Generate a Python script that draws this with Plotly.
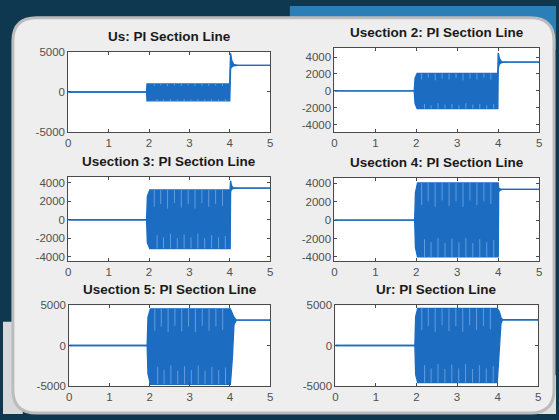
import plotly.graph_objects as go

# ---------------- data ----------------
titles = ["Us: PI Section Line", "Usection 2: PI Section Line",
          "Usection 3: PI Section Line", "Usection 4: PI Section Line",
          "Usection 5: PI Section Line", "Ur: PI Section Line"]

# envelope key points: time (s), upper envelope, lower envelope (V)
t_us = [0, 1.94, 1.95, 4.00, 4.02, 4.05, 4.10, 4.20, 5]
up_us = [0, 0, 1000, 1000, 4800, 3900, 3400, 3300, 3300]
lo_us = [0, 0, -1100, -1100, 2900, 3100, 3250, 3300, 3300]

t_s2 = [0, 1.95, 1.97, 2.02, 3.99, 4.00, 4.03, 4.08, 4.20, 5]
up_s2 = [0, 0, 1500, 2050, 2050, 4500, 3800, 3450, 3400, 3400]
lo_s2 = [0, 0, -1500, -2100, -2100, 2700, 3200, 3350, 3400, 3400]

t_s3 = [0, 1.94, 1.96, 2.02, 4.01, 4.02, 4.04, 4.08, 4.20, 5]
up_s3 = [0, 0, 2500, 3200, 3200, 4200, 3700, 3450, 3400, 3400]
lo_s3 = [0, 0, -2500, -3100, -3100, 3000, 3250, 3350, 3400, 3400]

t_s4 = [0, 1.96, 1.98, 2.03, 4.00, 4.01, 4.04, 4.10, 5]
up_s4 = [0, 0, 3000, 4050, 4050, 3500, 3400, 3350, 3350]
lo_s4 = [0, 0, -3000, -4000, -4000, 3100, 3250, 3350, 3350]

t_s5 = [0, 1.94, 1.96, 2.02, 4.01, 4.06, 4.10, 4.16, 5]
up_s5 = [0, 0, 3500, 4550, 4550, 4000, 3500, 3150, 3150]
lo_s5 = [0, 0, -3500, -4800, -4800, -1500, 2600, 3150, 3150]

t_ur = [0, 1.96, 1.98, 2.03, 3.99, 4.04, 4.08, 4.12, 5]
up_ur = [0, 0, 3600, 4600, 4600, 4200, 3500, 3200, 3200]
lo_ur = [0, 0, -3600, -4600, -4600, -1200, 2700, 3200, 3200]

# light streaks inside the oscillating band (beat dips)
streak_t = [2.13, 2.29, 2.46, 2.63, 2.80, 2.97, 3.14, 3.31, 3.48, 3.65, 3.82]
streak_us = [250, 200, 250, 200, 250, 200, 250, 200, 250, 200, 250]
streak_s2 = [700, 500, 800, 600, 700, 500, 800, 600, 700, 500, 700]
streak_s3 = [1800, 1500, 2000, 1400, 1900, 1500, 2000, 1400, 1800, 1500, 1700]
streak_s4 = [2400, 2000, 2600, 1900, 2500, 2000, 2600, 1900, 2400, 2000, 2300]
streak_s5 = [2700, 2200, 2900, 2100, 2800, 2200, 2900, 2100, 2700, 2200, 2600]
streak_ur = [2700, 2200, 2900, 2100, 2800, 2200, 2900, 2100, 2700, 2200, 2600]

x_ticks = [0, 1, 2, 3, 4, 5]
y_ticks_5k = [-5000, 0, 5000]
y_ticks_2k = [-4000, -2000, 0, 2000, 4000]

# ---------------- layout helpers ----------------
W, H = 559, 420
BLUE = "#1c6cc2"
STREAK = "rgba(140,182,232,0.65)"
FONT = "Liberation Sans, Arial, sans-serif"


def fx(px):
    return px / W


def fy(py):
    return 1 - py / H


panels = [
    dict(t=t_us, up=up_us, lo=lo_us, st=streak_us, yr=[-5000, 5000], yt=y_ticks_5k,
         box=(66, 270, 47, 130)),
    dict(t=t_s2, up=up_s2, lo=lo_s2, st=streak_s2, yr=[-4900, 5100], yt=y_ticks_2k,
         box=(335, 542, 43, 130)),
    dict(t=t_s3, up=up_s3, lo=lo_s3, st=streak_s3, yr=[-4500, 4600], yt=y_ticks_2k,
         box=(66, 270, 176, 263)),
    dict(t=t_s4, up=up_s4, lo=lo_s4, st=streak_s4, yr=[-4500, 4600], yt=y_ticks_2k,
         box=(335, 542, 177, 263)),
    dict(t=t_s5, up=up_s5, lo=lo_s5, st=streak_s5, yr=[-5000, 5000], yt=y_ticks_5k,
         box=(67, 270, 308, 391)),
    dict(t=t_ur, up=up_ur, lo=lo_ur, st=streak_ur, yr=[-5000, 5000], yt=y_ticks_5k,
         box=(336, 541, 308, 391)),
]

fig = go.Figure()
shapes = []
annotations = []

# background pieces (photo surroundings)
shapes.append(dict(type="rect", xref="paper", yref="paper", x0=fx(290), x1=1, y0=fy(45), y1=1,
                   fillcolor="#2a7fb6", line_width=0, layer="below"))
shapes.append(dict(type="rect", xref="paper", yref="paper", x0=0, x1=fx(20), y0=0, y1=fy(325),
                   fillcolor="#d6d8da", line_width=0, layer="below"))
shapes.append(dict(type="rect", xref="paper", yref="paper", x0=fx(520), x1=1, y0=0, y1=fy(380),
                   fillcolor="#e2e2e2", line_width=0, layer="below"))

# rounded frame
x0, x1, y0, y1, r = 10, 557, 12, 419, 24
X0, X1, Y0, Y1 = fx(x0), fx(x1), fy(y0), fy(y1)
rx, ry = r / W, r / H
path = (f"M {X0+rx},{Y0} L {X1-rx},{Y0} Q {X1},{Y0} {X1},{Y0-ry} "
        f"L {X1},{Y1+ry} Q {X1},{Y1} {X1-rx},{Y1} L {X0+rx},{Y1} "
        f"Q {X0},{Y1} {X0},{Y1+ry} L {X0},{Y0-ry} Q {X0},{Y0} {X0+rx},{Y0} Z")
shapes.append(dict(type="path", xref="paper", yref="paper", path=path,
                   fillcolor="#eeeeee", line=dict(color="#bcbcbc", width=3), layer="below"))

for i, p in enumerate(panels):
    n = i + 1
    xa = "x" if n == 1 else f"x{n}"
    ya = "y" if n == 1 else f"y{n}"
    L, R, T, B = p["box"]
    # white plot area
    shapes.append(dict(type="rect", xref="paper", yref="paper", x0=fx(L), x1=fx(R),
                       y0=fy(B), y1=fy(T), fillcolor="white", line_width=0, layer="below"))
    fig.add_trace(go.Scatter(x=p["t"], y=p["up"], mode="lines", xaxis=xa, yaxis=ya,
                             line=dict(color=BLUE, width=1.4), showlegend=False,
                             hoverinfo="skip"))
    fig.add_trace(go.Scatter(x=p["t"], y=p["lo"], mode="lines", xaxis=xa, yaxis=ya,
                             fill="tonexty", fillcolor=BLUE,
                             line=dict(color=BLUE, width=1.4), showlegend=False,
                             hoverinfo="skip"))
    # streaks from top and bottom of band
    top_env = max(p["up"][2:4])
    bot_env = min(p["lo"][2:4])
    sx, sy = [], []
    for ts, d in zip(streak_t, p["st"]):
        sx += [ts, ts, None]
        sy += [top_env, top_env - d, None]
        tb = ts + 0.07
        sx += [tb, tb, None]
        sy += [bot_env, bot_env + d * 0.8, None]
    fig.add_trace(go.Scatter(x=sx, y=sy, mode="lines", xaxis=xa, yaxis=ya,
                             line=dict(color=STREAK, width=1), showlegend=False,
                             hoverinfo="skip"))
    axis_common = dict(showline=True, mirror="ticks", linecolor="#4a4a4a", linewidth=1,
                       ticks="inside", ticklen=3, tickcolor="#4a4a4a", showgrid=False,
                       zeroline=False, tickfont=dict(size=11.5, color="#505050", family=FONT))
    fig.layout[f"xaxis{n if n > 1 else ''}"] = dict(
        domain=[fx(L), fx(R)], range=[0, 5], tickvals=x_ticks,
        ticktext=[str(v) for v in x_ticks], anchor=ya, **axis_common)
    fig.layout[f"yaxis{n if n > 1 else ''}"] = dict(
        domain=[fy(B), fy(T)], range=p["yr"], tickvals=p["yt"],
        ticktext=[str(v) for v in p["yt"]], anchor=xa, **axis_common)
    annotations.append(dict(xref="paper", yref="paper", x=fx((L + R) / 2), y=fy(T - 6),
                            xanchor="center", yanchor="bottom", showarrow=False,
                            text=f"<b>{titles[i]}</b>",
                            font=dict(size=13.5, color="#1a1a1a", family=FONT)))

fig.update_layout(width=W, height=H, margin=dict(l=0, r=0, t=0, b=0),
                  paper_bgcolor="#0e3850", plot_bgcolor="rgba(0,0,0,0)",
                  shapes=shapes, annotations=annotations)

fig.write_html("out.html", config={"displayModeBar": False},
               post_script="document.body.style.margin='0';"
                           "document.body.style.overflow='hidden';")
